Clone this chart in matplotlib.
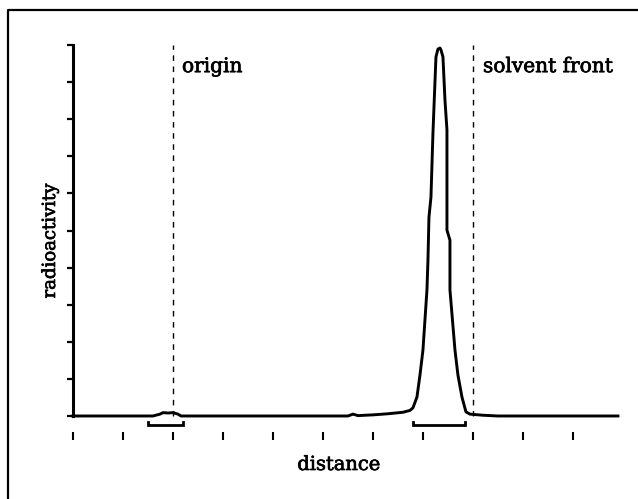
import matplotlib
matplotlib.use("Agg")
import matplotlib.pyplot as plt
import matplotlib.patheffects as pe
from matplotlib.lines import Line2D

# scanned radiochromatogram trace (distance units, arbitrary radioactivity)
distance = [0.0, 1.6, 1.74, 1.8, 1.9, 2.0, 2.1, 2.16, 5.5, 5.6, 5.7, 6.0, 6.3, 6.6,
            6.74, 6.80, 6.88, 6.94, 7.00, 7.04, 7.08, 7.10, 7.12, 7.16, 7.20, 7.26,
            7.30, 7.34, 7.36, 7.40, 7.44, 7.48, 7.48, 7.54, 7.54, 7.64, 7.70, 7.78,
            7.86, 7.94, 8.2, 8.5, 10.9]
radioactivity = [0.0, 0.0, 0.05, 0.09, 0.08, 0.09, 0.05, 0.0, 0.0, 0.05, 0.01, 0.03,
                 0.06, 0.10, 0.15, 0.22, 0.51, 1.10, 1.78, 2.59, 3.40, 4.20, 5.36, 5.90,
                 7.63, 9.68, 9.89, 9.92, 9.87, 9.68, 8.52, 7.71, 5.01, 4.74, 3.40, 1.78,
                 1.10, 0.51, 0.11, 0.05, 0.02, 0.0, 0.0]
origin_x = 2.0
front_x = 8.0
origin_band = (1.5, 2.2)
peak_band = (6.8, 7.84)
x_ticks = list(range(0, 11))
y_ticks = list(range(0, 11))

plt.rcParams["font.family"] = ["DejaVu Serif"]
fig = plt.figure(figsize=(6.38, 4.99), dpi=100)
ax = fig.add_axes([0.1144, 0.1292, 0.862, 0.7954])
ax.set_xlim(0, 11)
ax.set_ylim(-0.5, 10.2)

ax.plot(distance, radioactivity, color="black", lw=2.1, solid_joinstyle="round",
        clip_on=False)
for xv in (origin_x, front_x):
    ax.plot([xv, xv], [0, 10], color="black", lw=1.0, ls=(0, (4, 4)))
for a, b in (origin_band, peak_band):
    ax.plot([a, a, b, b], [-0.17, -0.25, -0.25, -0.17], color="black", lw=2.0,
            solid_joinstyle="miter", clip_on=False)

for s in ("top", "right"):
    ax.spines[s].set_visible(False)
ax.spines["left"].set_bounds(0, 10)
ax.spines["left"].set_linewidth(2.2)
ax.spines["bottom"].set_position(("data", -0.43))
ax.spines["bottom"].set_visible(False)
ax.set_xticks(x_ticks)
ax.set_yticks(y_ticks)
ax.set_xticklabels([])
ax.set_yticklabels([])
ax.tick_params(axis="y", direction="out", length=4.5, width=1.6)
ax.tick_params(axis="x", direction="out", length=6, width=1.5)

heavy = [pe.withStroke(linewidth=0.5, foreground="black")]
ax.text(2.18, 9.27, "origin", fontsize=14.5, va="baseline", ha="left", path_effects=heavy)
ax.text(8.2, 9.27, "solvent front", fontsize=14.5, va="baseline", ha="left",
        path_effects=heavy)
fig.text(339 / 638, 1 - 470 / 499, "distance", fontsize=14, ha="center",
         va="baseline", path_effects=heavy)
fig.text(50 / 638, 1 - 241 / 499, "radioactivity", fontsize=13, ha="center",
         va="center", rotation=90, path_effects=heavy)

# scanned page border (left and top edges only)
fig.add_artist(Line2D([8 / 638, 8 / 638, 1.0], [0.0, 1 - 10 / 499, 1 - 10 / 499],
                      color="black", lw=1.6))

fig.savefig("out.png", dpi=100)
